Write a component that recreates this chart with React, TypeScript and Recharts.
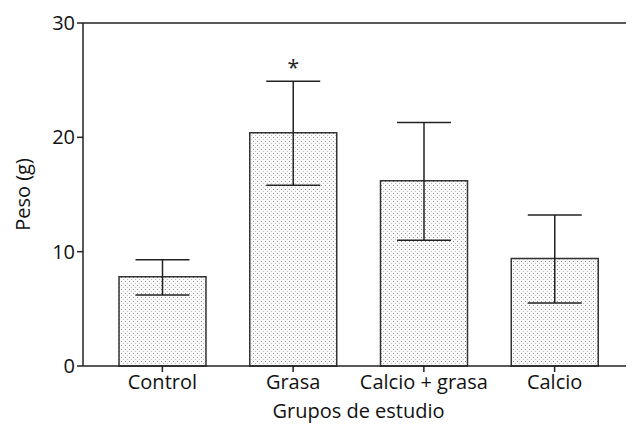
import { BarChart, Bar, XAxis, YAxis, ErrorBar, ReferenceLine, LabelList } from 'recharts';

const groups = ['Control', 'Grasa', 'Calcio + grasa', 'Calcio'];
const means = [7.8, 20.4, 16.2, 9.4];
const lowerEnds = [6.2, 15.8, 11.0, 5.5];
const upperEnds = [9.3, 24.9, 21.3, 13.2];
const marks = ['', '*', '', ''];
const yTicks = [0, 10, 20, 30];

const data = groups.map((g, i) => ({
  group: g,
  peso: means[i],
  err: [means[i] - lowerEnds[i], upperEnds[i] - means[i]],
  mark: marks[i],
}));

const font = '"Open Sans", sans-serif';
const txt = { fill: '#111', fontSize: 20, fontFamily: font };

// asterisk sits above the upper end of the error bar
const Star = (props: any) => {
  const { x, y, width, height, index } = props;
  if (!marks[index]) return null;
  const perUnit = height / means[index];
  const top = y - (upperEnds[index] - means[index]) * perUnit;
  return (
    <text x={x + width / 2} y={top - 6} textAnchor="middle" fontSize={21} fontFamily={font} fill="#222">
      {marks[index]}
    </text>
  );
};

const App = () => (
  <div style={{ width: 626, height: 416 }}>
    <BarChart width={626} height={416} data={data} margin={{ top: 15, right: 0, bottom: 0, left: 0 }}>
      <defs>
        <pattern id="dots" width="4" height="4" patternUnits="userSpaceOnUse">
          <rect width="4" height="4" fill="#fbfbfb" />
          <rect x="1" y="1" width="1" height="1" fill="#8a8a8a" />
          <rect x="3" y="3" width="1" height="1" fill="#b8b8b8" />
        </pattern>
      </defs>
      <XAxis
        dataKey="group"
        height={58}
        padding={{ left: 14, right: 14 }}
        axisLine={{ stroke: '#222', strokeWidth: 1.5 }}
        tickLine={{ stroke: '#222', strokeWidth: 1.5 }}
        tickSize={6}
        tick={{ ...txt, dy: 1 }}
        label={{ value: 'Grupos de estudio', position: 'insideBottom', offset: 6, ...txt }}
      />
      <YAxis
        width={75}
        domain={[0, 30]}
        ticks={yTicks}
        axisLine={{ stroke: '#222', strokeWidth: 1.5 }}
        tickLine={{ stroke: '#222', strokeWidth: 1.5 }}
        tickSize={6}
        tick={txt}
        label={{ value: 'Peso (g)', angle: -90, position: 'insideLeft', offset: 15, ...txt, style: { textAnchor: 'middle' } }}
      />
      <ReferenceLine y={30} stroke="#222" strokeWidth={1.5} />
      <Bar dataKey="peso" barSize={87} fill="url(#dots)" stroke="#333" strokeWidth={1.5} isAnimationActive={false}>
        <ErrorBar dataKey="err" width={27} stroke="#222" strokeWidth={1.5} />
        <LabelList dataKey="mark" content={Star} />
      </Bar>
    </BarChart>
  </div>
);

export default App;
